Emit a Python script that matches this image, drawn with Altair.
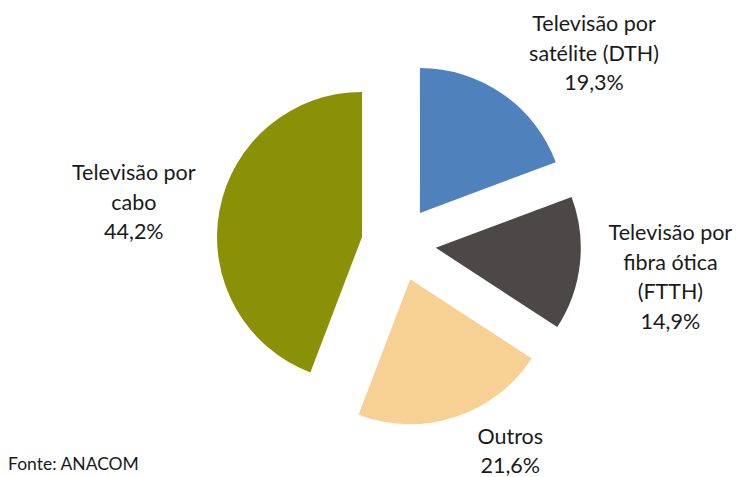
import altair as alt
import pandas as pd

# ---- data ----
categories = ["Televisão por satélite (DTH)", "Televisão por fibra ótica (FTTH)", "Outros", "Televisão por cabo"]
label_names = ["Televisão por\nsatélite (DTH)", "Televisão por\nfibra ótica\n(FTTH)", "Outros", "Televisão por\ncabo"]
values = [19.3, 14.9, 21.6, 44.2]
colors = ["#4F81BD", "#4B4847", "#F7D194", "#8B9107"]
source_note = ["Fonte: ANACOM"]

labels = [f"{n}\n{v:.1f}".replace(".", ",") + "%" for n, v in zip(label_names, values)]
df = pd.DataFrame({"cat": categories, "value": values, "order": list(range(len(values))), "label": labels})

# ---- geometry / style ----
CX, CY = 390.7, 235.7   # pie center (px)
D = 37.3                 # explode distance
R = 145                  # slice radius
LR = 230                 # label radius
FONT = "Lato"
LH = 29.5

base = (
    alt.Chart(df)
    .transform_joinaggregate(total="sum(value)")
    .transform_window(cum="sum(value)", sort=[alt.SortField("order")])
    .transform_calculate(
        a0="2*PI*(datum.cum - datum.value)/datum.total",
        a1="2*PI*datum.cum/datum.total",
    )
    .transform_calculate(mid="(datum.a0 + datum.a1)/2")
    .transform_calculate(
        px=f"{CX} + {D}*sin(datum.mid)",
        py=f"{CY} - {D}*cos(datum.mid)",
    )
)

xenc = alt.X("px:Q", scale=None, axis=None)
yenc = alt.Y("py:Q", scale=None, axis=None)

arcs = base.mark_arc(outerRadius=R, innerRadius=0).encode(
    x=xenc,
    y=yenc,
    theta=alt.Theta("a0:Q", scale=None, stack=None),
    theta2="a1:Q",
    color=alt.Color("cat:N", scale=alt.Scale(domain=categories, range=colors), legend=None),
)

offsets = {
    categories[0]: (43, 1),
    categories[1]: (6, -39),
    categories[2]: (29, -60),
    categories[3]: (-2, -21),
}

text_layers = []
for cat in categories:
    dx, dy = offsets[cat]
    t = base.transform_filter(alt.datum.cat == cat).mark_text(
        radius=LR, dx=dx, dy=dy, align="center", baseline="middle",
        lineBreak="\n", lineHeight=LH, font=FONT, fontSize=21.5, color="#1a1a1a",
    ).encode(
        x=xenc,
        y=yenc,
        theta=alt.Theta("mid:Q", scale=None, stack=None),
        text="label:N",
    )
    text_layers.append(t)

note = alt.Chart(pd.DataFrame({"t": source_note})).mark_text(
    align="left", baseline="middle", font=FONT, fontSize=17.5, color="#1a1a1a"
).encode(x=alt.value(0), y=alt.value(457), text="t:N")

chart = alt.layer(arcs, *text_layers, note).properties(
    width=726, height=469, autosize="none", padding=0
).configure_view(stroke=None)

chart.save("out.html", embed_options={"renderer": "svg", "actions": False})
